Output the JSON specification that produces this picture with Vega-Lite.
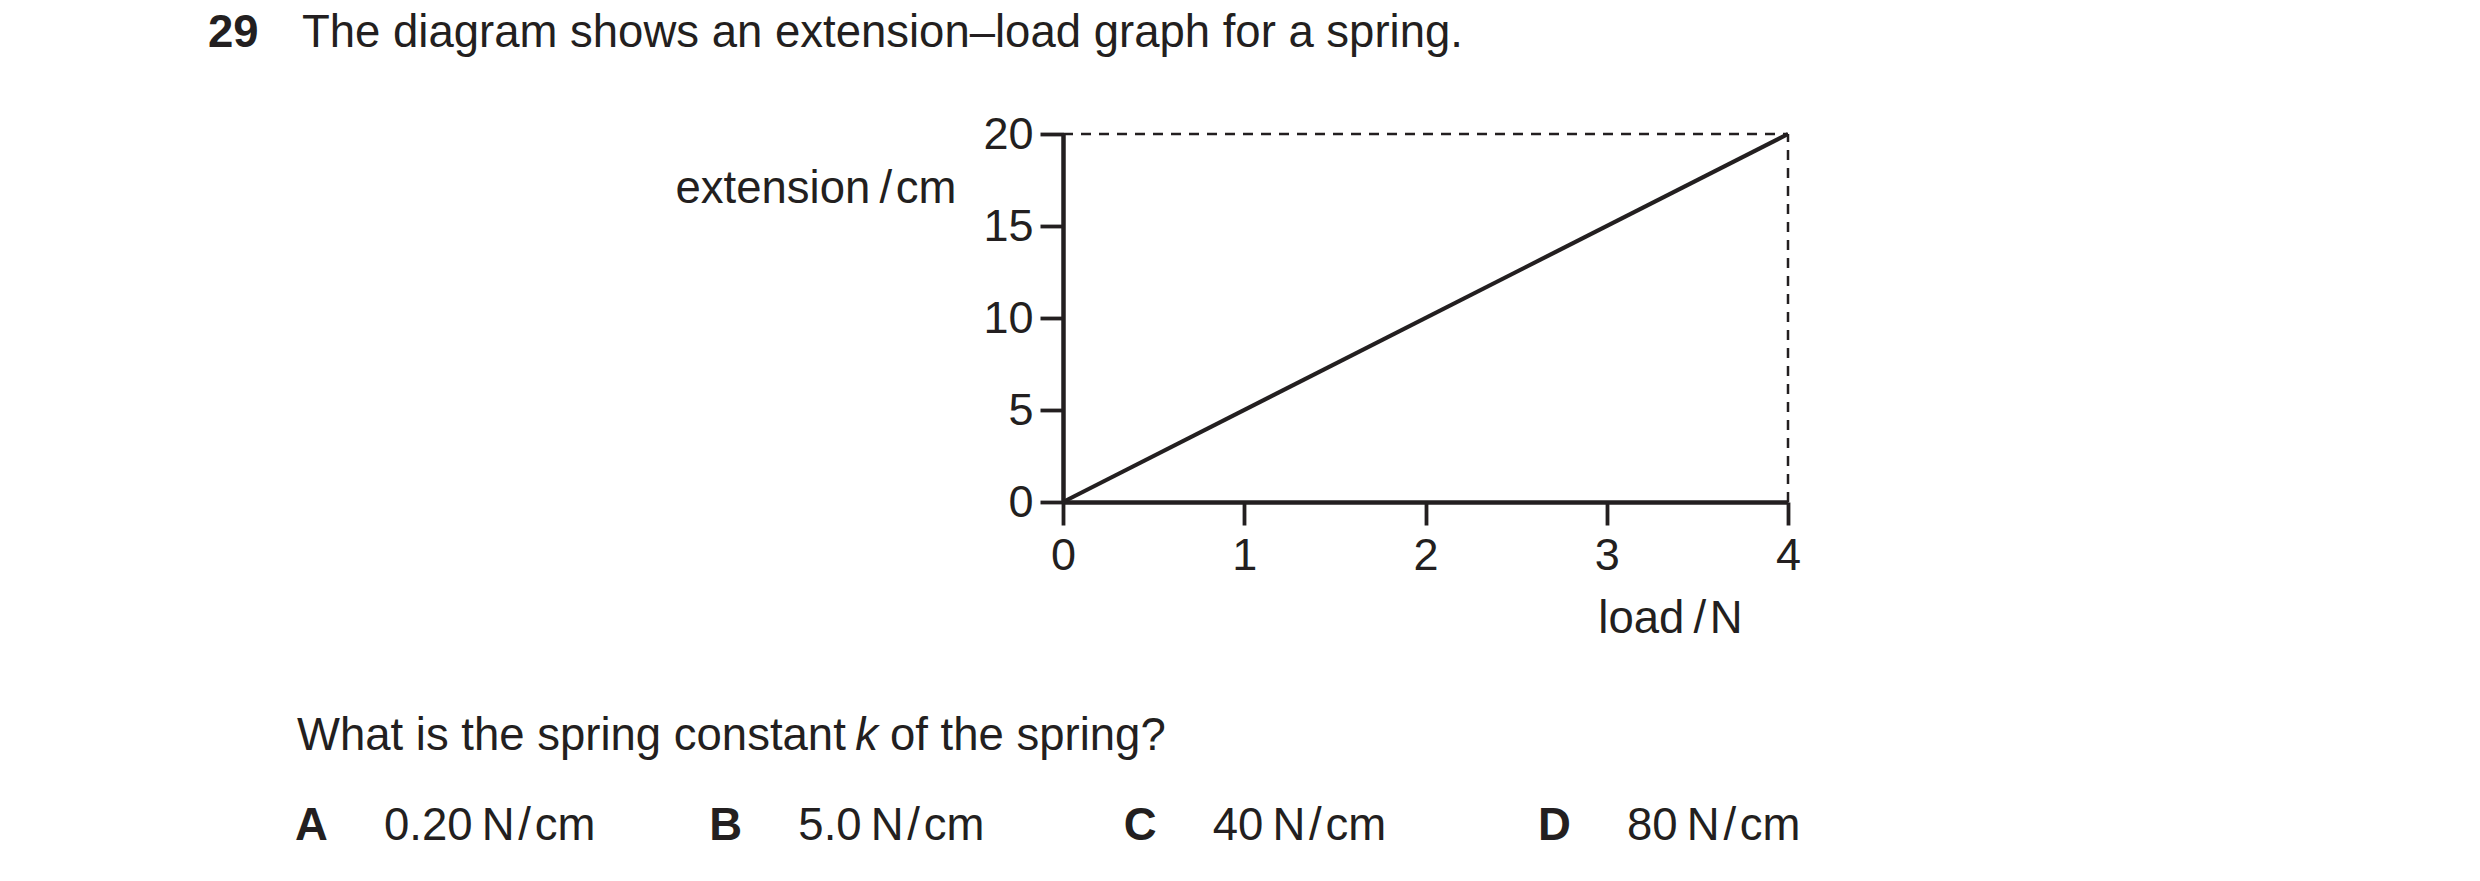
{
  "$schema": "https://vega.github.io/schema/vega-lite/v6.json",
  "description": "Extension-load graph for a spring, with the question text around it.",
  "width": 2480,
  "height": 881,
  "autosize": "none",
  "padding": 0,
  "background": "white",
  "datasets": {
    "graph": [
      {"load": 0, "extension": 0},
      {"load": 4, "extension": 20}
    ],
    "guides": [
      {"load_start": 0, "load_end": 4, "ext_start": 20, "ext_end": 20},
      {"load_start": 4, "load_end": 4, "ext_start": 0, "ext_end": 20}
    ],
    "heading": [
      {"block": "heading", "part": "number", "text": "29"},
      {"block": "heading", "part": "statement", "text": "The diagram shows an extension–load graph for a spring."}
    ],
    "question": [
      {"block": "question", "part": "lead", "text": "What is the spring constant"},
      {"block": "question", "part": "symbol", "text": "k"},
      {"block": "question", "part": "tail", "text": "of the spring?"}
    ],
    "options": [
      {"block": "options", "letter": "A", "answer": "0.20\u2009N\u200a/\u200acm"},
      {"block": "options", "letter": "B", "answer": "5.0\u2009N\u200a/\u200acm"},
      {"block": "options", "letter": "C", "answer": "40\u2009N\u200a/\u200acm"},
      {"block": "options", "letter": "D", "answer": "80\u2009N\u200a/\u200acm"}
    ]
  },
  "layer": [
    {
      "layer": [
        {
          "data": {"name": "guides"},
          "mark": {"type": "rule", "color": "#231f20", "strokeWidth": 2.5, "strokeDash": [10, 8]},
          "encoding": {
            "x": {"field": "load_start", "type": "quantitative"},
            "x2": {"field": "load_end"},
            "y": {"field": "ext_start", "type": "quantitative"},
            "y2": {"field": "ext_end"}
          }
        },
        {
          "data": {"name": "graph"},
          "mark": {"type": "line", "color": "#231f20", "strokeWidth": 4.2},
          "encoding": {
            "x": {
              "field": "load",
              "type": "quantitative",
              "scale": {"domain": [0, 4], "range": [1063, 1788], "nice": false, "zero": false},
              "axis": {
                "title": "load\u2009/\u200aN",
                "values": [0, 1, 2, 3, 4],
                "format": "d",
                "offset": -379,
                "labelBaseline": "alphabetic",
                "labelPadding": 44,
                "titleX": 1670,
                "titleY": 130,
                "titleAlign": "center",
                "titleBaseline": "alphabetic"
              }
            },
            "y": {
              "field": "extension",
              "type": "quantitative",
              "scale": {"domain": [0, 20], "range": [502, 134], "nice": false, "zero": false},
              "axis": {
                "title": "extension\u2009/\u200acm",
                "values": [0, 5, 10, 15, 20],
                "format": "d",
                "offset": -1063,
                "labelPadding": 7,
                "titleAngle": 0,
                "titleX": -107,
                "titleY": 202,
                "titleAlign": "right",
                "titleBaseline": "alphabetic"
              }
            }
          }
        }
      ]
    },
    {
      "data": {"name": "heading"},
      "encoding": {
        "x": {"field": "part", "type": "nominal", "axis": null, "scale": {"type": "point", "domain": ["number", "statement"], "range": [208, 302], "padding": 0}},
        "y": {"field": "block", "type": "nominal", "axis": null, "scale": {"type": "point", "domain": ["heading"], "range": [47, 47], "padding": 0}},
        "text": {"field": "text"}
      },
      "layer": [
        {
          "transform": [{"filter": "datum.part === 'number'"}],
          "mark": {"type": "text", "align": "left", "baseline": "alphabetic", "fontSize": 45.5, "fontWeight": "bold", "color": "#231f20"}
        },
        {
          "transform": [{"filter": "datum.part === 'statement'"}],
          "mark": {"type": "text", "align": "left", "baseline": "alphabetic", "fontSize": 45.5, "color": "#231f20"}
        }
      ]
    },
    {
      "data": {"name": "question"},
      "encoding": {
        "x": {"field": "part", "type": "nominal", "axis": null, "scale": {"type": "point", "domain": ["lead", "tail"], "range": [297, 890], "padding": 0}},
        "y": {"field": "block", "type": "nominal", "axis": null, "scale": {"type": "point", "domain": ["question"], "range": [750, 750], "padding": 0}},
        "text": {"field": "text"}
      },
      "layer": [
        {
          "transform": [{"filter": "datum.part !== 'symbol'"}],
          "mark": {"type": "text", "align": "left", "baseline": "alphabetic", "fontSize": 45.5, "color": "#231f20"}
        },
        {
          "transform": [{"filter": "datum.part === 'symbol'"}, {"calculate": "'tail'", "as": "part"}],
          "mark": {"type": "text", "align": "right", "baseline": "alphabetic", "fontSize": 45.5, "fontStyle": "italic", "color": "#231f20", "dx": -12}
        }
      ]
    },
    {
      "data": {"name": "options"},
      "encoding": {
        "x": {"field": "letter", "type": "nominal", "axis": null, "scale": {"type": "point", "domain": ["A", "B", "C", "D"], "range": [295, 1538], "padding": 0}},
        "y": {"field": "block", "type": "nominal", "axis": null, "scale": {"type": "point", "domain": ["options"], "range": [840, 840], "padding": 0}}
      },
      "layer": [
        {
          "mark": {"type": "text", "align": "left", "baseline": "alphabetic", "fontSize": 45.5, "fontWeight": "bold", "color": "#231f20"},
          "encoding": {"text": {"field": "letter"}}
        },
        {
          "mark": {"type": "text", "align": "left", "baseline": "alphabetic", "fontSize": 45.5, "color": "#231f20", "dx": 89},
          "encoding": {"text": {"field": "answer"}}
        }
      ]
    }
  ],
  "resolve": {"scale": {"x": "independent", "y": "independent"}},
  "config": {
    "view": {"stroke": null},
    "font": "Liberation Sans",
    "axis": {
      "grid": false,
      "domainColor": "#231f20",
      "domainWidth": 4.5,
      "tickColor": "#231f20",
      "tickWidth": 3.8,
      "tickSize": 23,
      "labelFont": "Liberation Sans",
      "labelFontSize": 45,
      "labelColor": "#231f20",
      "labelFlush": false,
      "labelOverlap": false,
      "titleFont": "Liberation Sans",
      "titleFontSize": 45.5,
      "titleFontWeight": "normal",
      "titleColor": "#231f20",
      "titlePadding": 0
    }
  }
}
